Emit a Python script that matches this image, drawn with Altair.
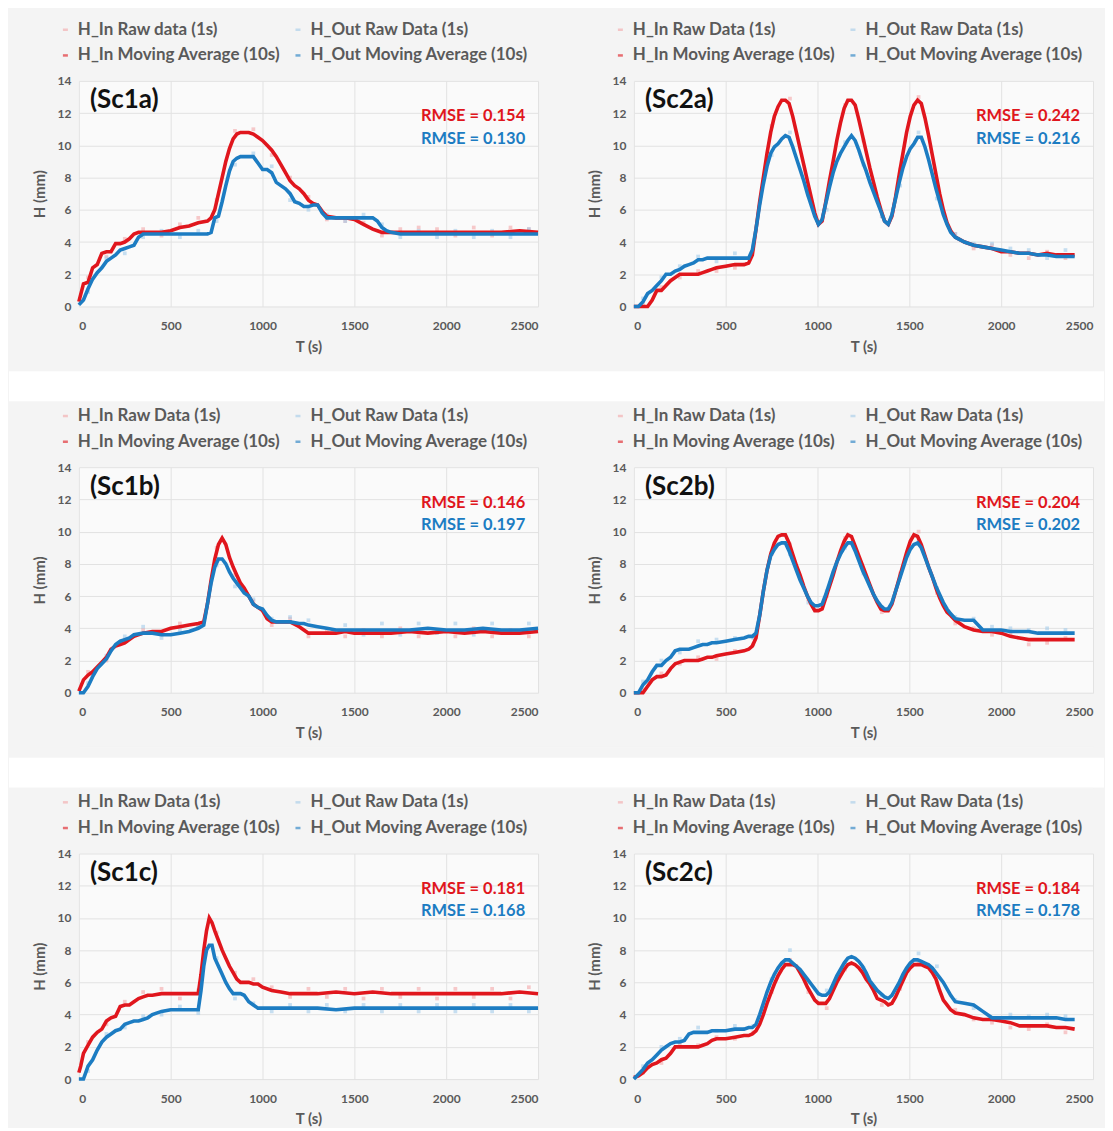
import altair as alt
import pandas as pd

# ---------------- colours ----------------
RED = "#e0161d"
BLUE = "#1c7cc2"
RAW_IN_C = "#f3a7a9"
RAW_OUT_C = "#a3cbe9"
TXT = "#5a5a5a"
CARD = "#f4f4f4"

X_TICKS = [0, 500, 1000, 1500, 2000, 2500]
Y_TICKS = [0, 2, 4, 6, 8, 10, 12, 14]

# ---------------- Sc1a ----------------
T_1A = [0, 25, 50, 75, 100, 125, 150, 175, 200, 225, 250, 275, 300, 325, 350,
        400, 450, 500, 550, 600, 650, 700,
        720, 740, 760, 780, 800, 820, 840, 860, 880, 900,
        925, 950, 975, 1000, 1025, 1050, 1075, 1100, 1125, 1150, 1175, 1200, 1225, 1250, 1275, 1300, 1325, 1350,
        1400, 1450, 1500, 1550, 1600, 1625, 1650, 1675, 1700, 1750, 1800,
        1900, 2000, 2100, 2200, 2300, 2400, 2500]
IN_1A = [0.3, 1.4, 1.5, 2.4, 2.6, 3.3, 3.4, 3.4, 3.9, 3.9, 4.0, 4.2, 4.5, 4.6, 4.6,
         4.6, 4.6, 4.7, 4.9, 5.0, 5.2, 5.3,
         5.5, 6.0, 7.0, 8.0, 9.0, 9.8, 10.4, 10.7, 10.8, 10.8,
         10.8, 10.7, 10.5, 10.3, 10.0, 9.7, 9.3, 8.8, 8.3, 7.8, 7.5, 7.3, 7.0, 6.6, 6.4, 6.3, 5.9, 5.6,
         5.5, 5.5, 5.4, 5.1, 4.8, 4.7, 4.6, 4.6, 4.6, 4.6, 4.6,
         4.6, 4.6, 4.6, 4.6, 4.6, 4.7, 4.6]
OUT_1A = [0.1, 0.4, 1.1, 1.7, 2.1, 2.4, 2.8, 3.0, 3.2, 3.5, 3.6, 3.7, 3.8, 4.3, 4.5,
          4.5, 4.5, 4.5, 4.5, 4.5, 4.5, 4.5,
          4.6, 5.5, 5.6, 6.5, 7.5, 8.4, 9.0, 9.2, 9.3, 9.3,
          9.3, 9.3, 8.9, 8.5, 8.5, 8.3, 7.7, 7.5, 7.3, 7.0, 6.5, 6.4, 6.2, 6.2, 6.3, 6.3, 5.8, 5.5,
          5.5, 5.5, 5.5, 5.5, 5.5, 5.3, 4.9, 4.7, 4.6, 4.5, 4.5,
          4.5, 4.5, 4.5, 4.5, 4.5, 4.5, 4.5]

# ---------------- Sc1b ----------------
T_1B = [0, 25, 50, 75, 100, 125, 150, 175, 200, 225, 250, 275, 300,
        350, 400, 450, 500, 550, 600, 650, 680,
        700, 720, 740, 760, 780, 800, 820, 840, 860, 880, 900,
        925, 950, 975, 1000, 1025, 1050, 1075, 1100,
        1150, 1200, 1225, 1250, 1300, 1350, 1400, 1450, 1500,
        1600, 1700, 1800, 1900, 2000, 2100, 2200, 2300, 2400, 2500]
IN_1B = [0.1, 0.8, 1.1, 1.3, 1.6, 1.9, 2.2, 2.7, 2.9, 3.0, 3.1, 3.3, 3.5,
         3.7, 3.8, 3.8, 4.0, 4.1, 4.2, 4.3, 4.4,
         5.5, 7.0, 8.3, 9.2, 9.6, 9.2, 8.4, 7.8, 7.3, 6.8, 6.5,
         6.0, 5.5, 5.3, 5.1, 4.6, 4.4, 4.4, 4.4,
         4.4, 4.1, 3.9, 3.7, 3.7, 3.7, 3.7, 3.8, 3.7,
         3.7, 3.7, 3.8, 3.7, 3.8, 3.7, 3.8, 3.7, 3.7, 3.8]
OUT_1B = [0.0, 0.0, 0.4, 1.0, 1.5, 1.8, 2.1, 2.6, 3.0, 3.2, 3.3, 3.4, 3.6,
          3.7, 3.7, 3.6, 3.6, 3.7, 3.8, 4.0, 4.2,
          5.5, 6.8, 7.8, 8.3, 8.3, 8.0, 7.5, 7.1, 6.8, 6.5, 6.2,
          6.0, 5.5, 5.3, 5.2, 4.8, 4.5, 4.4, 4.4,
          4.4, 4.3, 4.3, 4.2, 4.1, 4.0, 3.9, 3.9, 3.9,
          3.9, 3.9, 3.9, 4.0, 3.9, 3.9, 4.0, 3.9, 3.9, 4.0]

# ---------------- Sc1c ----------------
T_1C = [0, 10, 25, 50, 75, 100, 125, 150, 175, 200, 225, 250, 275, 300, 325, 350, 375, 400,
        450, 500, 550, 600, 650,
        665, 680, 695, 710, 725, 740,
        760, 780, 800, 820, 840, 860, 880, 900,
        925, 950, 975, 1000, 1050, 1100, 1150, 1200,
        1300, 1400, 1500, 1600, 1700, 1800, 1900, 2000, 2100, 2200, 2300, 2400, 2500]
IN_1C = [0.4, 0.8, 1.6, 2.1, 2.6, 2.9, 3.1, 3.6, 3.8, 3.9, 4.5, 4.6, 4.6, 4.8, 5.0, 5.1, 5.2, 5.2,
         5.3, 5.3, 5.3, 5.3, 5.3,
         6.5, 8.0, 9.2, 10.0, 9.7, 9.2,
         8.6, 8.0, 7.5, 7.0, 6.6, 6.2, 6.0, 6.0,
         6.0, 5.9, 5.9, 5.7, 5.5, 5.4, 5.3, 5.3,
         5.3, 5.4, 5.3, 5.4, 5.3, 5.3, 5.3, 5.3, 5.3, 5.3, 5.3, 5.4, 5.3]
OUT_1C = [0.0, 0.0, 0.0, 0.8, 1.2, 1.8, 2.3, 2.6, 2.8, 3.0, 3.1, 3.4, 3.5, 3.6, 3.6, 3.7, 3.8, 4.0,
          4.2, 4.3, 4.3, 4.3, 4.3,
          5.5, 7.0, 8.0, 8.3, 8.3, 7.5,
          7.0, 6.5, 6.0, 5.6, 5.3, 5.3, 5.3, 5.2,
          4.8, 4.6, 4.4, 4.4, 4.4, 4.4, 4.4, 4.4,
          4.4, 4.3, 4.4, 4.4, 4.4, 4.4, 4.4, 4.4, 4.4, 4.4, 4.4, 4.4, 4.4]

# ---------------- Sc2 time grid (shared by Sc2a, Sc2b, Sc2c) ----------------
T_2 = [0, 25, 50, 75, 100, 125, 150, 175, 200, 225, 250, 275, 300, 325, 350, 375, 400, 425, 450,
       500, 550, 600, 625,
       645, 665, 685, 705, 725, 745, 765, 785, 805, 825, 845, 865, 885, 905, 925, 945, 965, 985,
       1005, 1025, 1045, 1065, 1085, 1105, 1125, 1145, 1165, 1185, 1205, 1225, 1245, 1265, 1285,
       1305, 1325, 1345, 1365, 1385, 1405, 1425, 1445, 1465, 1485, 1505, 1525, 1545, 1565, 1585,
       1605, 1625, 1645, 1665, 1685, 1705, 1725,
       1750, 1800, 1850, 1900, 1950, 2000, 2050, 2100, 2150, 2200, 2250, 2300, 2350, 2400]

IN_2A = [0, 0, 0, 0, 0.4, 1.0, 1.0, 1.3, 1.6, 1.8, 2.0, 2.0, 2.0, 2.0, 2.0, 2.1, 2.2, 2.3, 2.4,
         2.5, 2.6, 2.6, 2.7,
         3.2, 4.8, 6.5, 8.0, 9.5, 10.8, 11.8, 12.4, 12.8, 12.8, 12.6, 11.8, 10.8, 9.8, 8.8, 7.8, 6.8, 5.8,
         5.1, 5.3, 6.5, 7.8, 9.0, 10.3, 11.4, 12.3, 12.8, 12.8, 12.5, 11.6, 10.6, 9.6, 8.6,
         7.7, 6.8, 6.0, 5.3, 5.1, 5.6, 6.8, 8.2, 9.5, 10.8, 11.8, 12.5, 12.8, 12.6, 11.7,
         10.6, 9.4, 8.2, 7.0, 6.0, 5.2, 4.7,
         4.3, 4.0, 3.8, 3.7, 3.6, 3.4, 3.4, 3.3, 3.3, 3.2, 3.3, 3.2, 3.2, 3.2]
OUT_2A = [0, 0, 0.3, 0.8, 1.0, 1.3, 1.6, 2.0, 2.0, 2.2, 2.3, 2.5, 2.6, 2.7, 2.9, 2.9, 3.0, 3.0, 3.0,
          3.0, 3.0, 3.0, 3.0,
          3.5, 4.8, 6.3, 7.6, 8.7, 9.5, 9.9, 10.1, 10.4, 10.6, 10.5, 9.9, 9.2, 8.5, 7.8, 7.0, 6.3, 5.6,
          5.1, 5.4, 6.4, 7.4, 8.3, 9.0, 9.5, 9.9, 10.3, 10.6, 10.3, 9.7, 9.0, 8.4, 7.7,
          7.1, 6.5, 5.9, 5.3, 5.1, 5.7, 6.7, 7.7, 8.6, 9.3, 9.8, 10.1, 10.5, 10.5, 9.9,
          9.1, 8.2, 7.3, 6.5, 5.7, 5.1, 4.6,
          4.3, 4.0, 3.8, 3.7, 3.6, 3.5, 3.4, 3.3, 3.3, 3.2, 3.2, 3.1, 3.1, 3.1]

IN_2B = [0, 0, 0, 0.4, 0.8, 1.0, 1.0, 1.1, 1.5, 1.8, 1.9, 2.0, 2.0, 2.0, 2.0, 2.1, 2.2, 2.2, 2.3,
         2.4, 2.5, 2.6, 2.7,
         2.9, 3.4, 4.8, 6.3, 7.6, 8.6, 9.3, 9.7, 9.8, 9.8, 9.3, 8.6, 7.9, 7.3, 6.6, 6.0, 5.5, 5.1,
         5.1, 5.2, 5.9, 6.6, 7.3, 8.1, 8.8, 9.4, 9.8, 9.7, 9.1, 8.5, 7.9, 7.3, 6.7,
         6.1, 5.6, 5.2, 5.1, 5.1, 5.5, 6.3, 7.1, 7.9, 8.7, 9.4, 9.8, 9.7, 9.2, 8.5,
         7.8, 7.2, 6.5, 5.9, 5.4, 5.0, 4.8,
         4.5, 4.1, 3.9, 3.8, 3.8, 3.7, 3.5, 3.4, 3.3, 3.3, 3.3, 3.3, 3.3, 3.3]
OUT_2B = [0, 0, 0.5, 0.8, 1.3, 1.7, 1.7, 2.0, 2.2, 2.6, 2.7, 2.7, 2.7, 2.8, 2.9, 3.0, 3.0, 3.1, 3.1,
          3.2, 3.3, 3.4, 3.5,
          3.5, 3.7, 4.8, 6.3, 7.6, 8.5, 8.9, 9.2, 9.3, 9.3, 8.8, 8.2, 7.6, 7.0, 6.5, 6.0, 5.6, 5.4,
          5.4, 5.5, 6.1, 6.8, 7.5, 8.1, 8.6, 9.0, 9.3, 9.3, 8.8, 8.2, 7.6, 7.1, 6.6,
          6.1, 5.7, 5.4, 5.2, 5.2, 5.6, 6.3, 7.0, 7.7, 8.4, 8.9, 9.2, 9.3, 9.0, 8.4,
          7.8, 7.2, 6.6, 6.1, 5.6, 5.2, 4.9,
          4.6, 4.5, 4.5, 3.9, 3.9, 3.9, 3.8, 3.8, 3.8, 3.7, 3.7, 3.7, 3.7, 3.7]

IN_2C = [0.1, 0.2, 0.4, 0.7, 0.9, 1.0, 1.2, 1.3, 1.6, 2.0, 2.0, 2.0, 2.0, 2.0, 2.0, 2.1, 2.2, 2.4, 2.5,
         2.5, 2.6, 2.7, 2.7,
         2.8, 3.0, 3.4, 4.0, 4.7, 5.3, 5.9, 6.4, 6.8, 7.1, 7.1, 7.1, 7.0, 6.6, 6.2, 5.7, 5.3, 4.9,
         4.7, 4.7, 4.7, 5.0, 5.5, 6.0, 6.4, 6.8, 7.1, 7.2, 7.1, 6.9, 6.6, 6.2, 5.9,
         5.5, 5.0, 4.9, 4.8, 4.6, 4.7, 5.1, 5.6, 6.1, 6.6, 6.9, 7.1, 7.1, 7.1, 7.0,
         6.9, 6.6, 6.2, 5.5, 4.9, 4.6, 4.3,
         4.1, 4.0, 3.8, 3.7, 3.7, 3.6, 3.5, 3.3, 3.3, 3.3, 3.3, 3.2, 3.2, 3.1]
OUT_2C = [0.0, 0.3, 0.6, 1.0, 1.2, 1.5, 1.8, 2.0, 2.2, 2.3, 2.3, 2.4, 2.8, 2.9, 2.9, 2.9, 2.9, 3.0, 3.0,
          3.0, 3.1, 3.1, 3.2,
          3.2, 3.4, 4.0, 4.7, 5.4, 6.0, 6.5, 6.9, 7.2, 7.4, 7.4, 7.2, 7.0, 6.8, 6.5, 6.2, 5.9, 5.6,
          5.3, 5.2, 5.2, 5.4, 5.9, 6.4, 6.8, 7.2, 7.5, 7.6, 7.5, 7.3, 7.0, 6.6, 6.1,
          5.8, 5.5, 5.3, 5.1, 5.0, 5.2, 5.6, 6.0, 6.5, 6.9, 7.2, 7.4, 7.4, 7.3, 7.2,
          7.1, 6.9, 6.6, 6.3, 6.0, 5.6, 5.2,
          4.8, 4.7, 4.6, 4.2, 3.8, 3.8, 3.8, 3.8, 3.8, 3.8, 3.8, 3.8, 3.7, 3.7]

# ---------------- raw 1 s samples (a visible subset) ----------------
RAW_T_1 = [50, 150, 250, 350, 450, 550, 650, 750, 850, 950, 1050, 1150, 1250,
           1350, 1450, 1550, 1650, 1750, 1850, 1950, 2050, 2150, 2250, 2350, 2450]
RAW_IN_1A = [1.8, 3.1, 4.2, 4.8, 4.4, 5.1, 5.5, 6.6, 10.9, 11.0, 9.4, 8.0, 6.8,
             5.4, 5.3, 5.2, 4.4, 4.8, 4.9, 4.8, 4.4, 4.9, 4.4, 4.9, 4.8]
RAW_OUT_1A = [0.9, 3.0, 3.3, 4.3, 4.7, 4.3, 4.7, 5.3, 8.8, 9.5, 8.7, 6.6, 6.0,
              5.7, 5.3, 5.7, 5.1, 4.3, 4.7, 4.3, 4.7, 4.3, 4.7, 4.3, 4.8]
RAW_IN_1B = [1.3, 2.0, 3.3, 3.9, 3.6, 4.3, 4.1, 9.0, 7.3, 5.7, 4.2, 4.6, 3.5,
             3.9, 3.5, 3.9, 3.5, 4.0, 3.5, 3.9, 3.5, 4.0, 3.5, 3.9, 3.5]
RAW_OUT_1B = [0.6, 2.3, 3.5, 4.1, 3.4, 3.9, 4.2, 7.9, 6.6, 5.8, 4.6, 4.7, 4.5,
              3.7, 4.2, 3.6, 4.3, 3.6, 4.3, 3.7, 4.3, 3.6, 4.3, 3.7, 4.3]
RAW_IN_1C = [2.3, 3.4, 4.8, 5.4, 5.6, 5.0, 5.5, 9.1, 6.6, 6.2, 5.7, 5.1, 5.6,
             5.1, 5.6, 5.0, 5.6, 5.1, 5.6, 5.0, 5.6, 5.1, 5.6, 5.0, 5.7]
RAW_OUT_1C = [0.5, 2.8, 3.2, 3.9, 4.0, 4.5, 4.1, 7.5, 5.0, 4.7, 4.2, 4.6, 4.2,
              4.6, 4.2, 4.6, 4.2, 4.6, 4.2, 4.6, 4.2, 4.6, 4.2, 4.6, 4.2]

RAW_T_2 = [50, 150, 250, 350, 450, 550, 650, 750, 850, 950, 1050, 1150, 1250,
           1350, 1450, 1550, 1650, 1750, 1850, 1950, 2050, 2150, 2250, 2350]
RAW_IN_2A = [0.2, 1.2, 1.8, 2.2, 2.2, 2.4, 3.6, 11.2, 12.9, 7.2, 6.7, 12.5, 10.3,
             5.6, 8.5, 13.0, 7.8, 4.5, 3.6, 3.8, 3.2, 3.0, 3.4, 3.0]
RAW_OUT_2A = [0.5, 1.8, 2.5, 3.1, 2.8, 3.3, 3.8, 9.4, 10.8, 6.9, 6.0, 10.2, 8.8,
              5.6, 7.5, 10.8, 6.7, 4.5, 3.9, 3.9, 3.6, 3.5, 3.0, 3.5]
RAW_IN_2B = [0.2, 1.2, 1.8, 2.2, 2.1, 2.6, 3.0, 8.6, 9.2, 5.8, 6.0, 9.6, 7.6,
             5.0, 7.4, 10.0, 6.2, 4.3, 4.0, 3.6, 3.6, 3.0, 3.1, 3.4]
RAW_OUT_2B = [0.7, 2.0, 2.5, 3.2, 3.3, 3.4, 3.4, 8.7, 8.6, 5.6, 6.3, 9.0, 7.4,
              5.3, 7.2, 9.4, 6.5, 4.7, 4.6, 4.1, 4.0, 3.9, 4.0, 3.9]
RAW_IN_2C = [0.4, 1.0, 2.2, 2.1, 2.6, 2.5, 2.9, 5.4, 7.4, 5.4, 4.4, 6.8, 6.7,
             4.6, 5.6, 7.3, 6.0, 4.3, 3.7, 3.5, 3.2, 3.1, 3.4, 2.9]
RAW_OUT_2C = [0.8, 2.0, 2.5, 3.2, 3.0, 3.3, 3.3, 6.2, 8.0, 6.0, 5.5, 7.2, 6.9,
              5.2, 6.1, 7.8, 7.0, 4.9, 4.4, 3.7, 4.0, 3.9, 4.0, 3.9]

PANELS = [
    dict(label="(Sc1a)", rin="RMSE = 0.154", rout="RMSE = 0.130", raw_name="H_In Raw data (1s)",
         t=T_1A, hin=IN_1A, hout=OUT_1A, rt=RAW_T_1, rin_v=RAW_IN_1A, rout_v=RAW_OUT_1A),
    dict(label="(Sc2a)", rin="RMSE = 0.242", rout="RMSE = 0.216", raw_name="H_In Raw Data (1s)",
         t=T_2, hin=IN_2A, hout=OUT_2A, rt=RAW_T_2, rin_v=RAW_IN_2A, rout_v=RAW_OUT_2A),
    dict(label="(Sc1b)", rin="RMSE = 0.146", rout="RMSE = 0.197", raw_name="H_In Raw Data (1s)",
         t=T_1B, hin=IN_1B, hout=OUT_1B, rt=RAW_T_1, rin_v=RAW_IN_1B, rout_v=RAW_OUT_1B),
    dict(label="(Sc2b)", rin="RMSE = 0.204", rout="RMSE = 0.202", raw_name="H_In Raw Data (1s)",
         t=T_2, hin=IN_2B, hout=OUT_2B, rt=RAW_T_2, rin_v=RAW_IN_2B, rout_v=RAW_OUT_2B),
    dict(label="(Sc1c)", rin="RMSE = 0.181", rout="RMSE = 0.168", raw_name="H_In Raw Data (1s)",
         t=T_1C, hin=IN_1C, hout=OUT_1C, rt=RAW_T_1, rin_v=RAW_IN_1C, rout_v=RAW_OUT_1C),
    dict(label="(Sc2c)", rin="RMSE = 0.184", rout="RMSE = 0.178", raw_name="H_In Raw Data (1s)",
         t=T_2, hin=IN_2C, hout=OUT_2C, rt=RAW_T_2, rin_v=RAW_IN_2C, rout_v=RAW_OUT_2C),
]

W, H = 460, 226
HSP = 96


def make_panel(p):
    names = [p["raw_name"], "H_Out Raw Data (1s)",
             "H_In Moving Average (10s)", "H_Out Moving Average (10s)"]
    n = len(p["t"])
    m = len(p["rt"])
    ma = pd.DataFrame({"T": p["t"] + p["t"], "H": p["hin"] + p["hout"],
                       "S": [names[2]] * n + [names[3]] * n})
    raw = pd.DataFrame({"T": p["rt"] + p["rt"], "H": p["rin_v"] + p["rout_v"],
                        "S": [names[0]] * m + [names[1]] * m})
    color = alt.Color(
        "S:N",
        scale=alt.Scale(domain=names, range=[RAW_IN_C, RAW_OUT_C, RED, BLUE]),
        legend=alt.Legend(title=None, orient="none", legendX=-22, legendY=-60, columns=2,
                          direction="horizontal",
                          symbolType="stroke", symbolSize=25, symbolStrokeWidth=2.5,
                          labelFontSize=17, labelFontWeight="bold", labelColor=TXT,
                          labelFont="Lato", rowPadding=8, columnPadding=9,
                          labelLimit=400, labelOffset=4),
    )
    x = alt.X("T:Q", scale=alt.Scale(domain=[0, 2500], nice=False, zero=False),
              axis=alt.Axis(values=X_TICKS, format="d", title="T (s)",
                            labelPadding=14, titlePadding=8))
    y = alt.Y("H:Q", scale=alt.Scale(domain=[0, 14], nice=False),
              axis=alt.Axis(values=Y_TICKS, format="d", title="H (mm)",
                            labelPadding=8, titlePadding=10))
    pts = alt.Chart(raw).mark_square(size=14, opacity=0.6).encode(x=x, y=y, color=color)
    lines = alt.Chart(ma).mark_line(strokeWidth=3.6).encode(x=x, y=y, color=color)
    lab = alt.Chart(pd.DataFrame({"T": [60], "H": [12.8], "txt": [p["label"]]})).mark_text(
        align="left", baseline="middle", fontSize=26, fontWeight="bold", color="#111111"
    ).encode(x=x, y=y, text="txt:N")
    r1 = alt.Chart(pd.DataFrame({"T": [2430], "H": [11.8], "txt": [p["rin"]]})).mark_text(
        align="right", baseline="middle", fontSize=16.5, fontWeight="bold", color=RED
    ).encode(x=x, y=y, text="txt:N")
    r2 = alt.Chart(pd.DataFrame({"T": [2430], "H": [10.4], "txt": [p["rout"]]})).mark_text(
        align="right", baseline="middle", fontSize=16.5, fontWeight="bold", color=BLUE
    ).encode(x=x, y=y, text="txt:N")
    return alt.layer(pts, lines, lab, r1, r2).properties(width=W, height=H)


# white gap between the grey cards
spacer = alt.Chart(pd.DataFrame({"k": [0]})).mark_rect(color="white").encode(
    x=alt.value(-70), x2=alt.value(2 * W + HSP + 11), y=alt.value(11), y2=alt.value(41)
).properties(width=2 * W + HSP, height=41, view=alt.ViewBackground(fill=CARD, stroke=CARD))

rows = [
    alt.hconcat(make_panel(PANELS[i]), make_panel(PANELS[i + 1]), spacing=HSP, bounds="flush")
    .resolve_scale(color="independent")
    for i in (0, 2, 4)
]

chart = (
    alt.vconcat(rows[0], spacer, rows[1], spacer, rows[2], spacing=5,
                padding={"left": 0, "top": 12, "right": 0, "bottom": 0},
                background=CARD)
    .resolve_scale(color="independent")
    .configure(font="Lato")
    .configure_view(stroke=None, fill="#fafafa")
    .configure_axis(labelFont="Lato", labelFontSize=12, labelFontWeight="bold", labelColor=TXT,
                    titleFont="Lato", titleFontSize=15, titleFontWeight="bold", titleColor=TXT,
                    gridColor="#e2e2e2", domain=False, ticks=False)
)

chart.save("out.html", embed_options={"renderer": "svg", "actions": False})
